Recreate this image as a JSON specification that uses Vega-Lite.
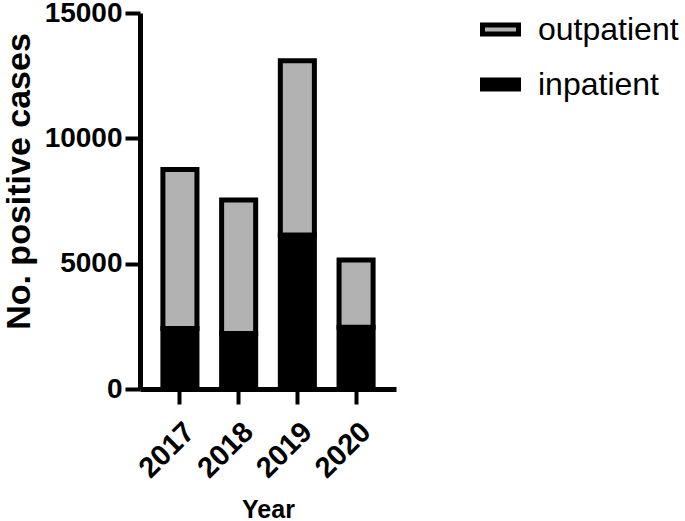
{
  "$schema": "https://vega.github.io/schema/vega-lite/v6.json",
  "autosize": "none",
  "width": 256,
  "height": 376,
  "padding": {"left": 140, "top": 13, "right": 289, "bottom": 132},
  "background": "white",
  "config": {
    "view": {"stroke": null},
    "font": "Liberation Sans",
    "axis": {"domainColor": "black", "tickColor": "black", "labelColor": "black", "titleColor": "black", "grid": false}
  },
  "data": {
    "values": [
      {"year": "2017", "type": "inpatient", "cases": 2410},
      {"year": "2017", "type": "outpatient", "cases": 6347},
      {"year": "2018", "type": "inpatient", "cases": 2210},
      {"year": "2018", "type": "outpatient", "cases": 5330},
      {"year": "2019", "type": "inpatient", "cases": 6140},
      {"year": "2019", "type": "outpatient", "cases": 6960},
      {"year": "2020", "type": "inpatient", "cases": 2460},
      {"year": "2020", "type": "outpatient", "cases": 2690}
    ]
  },
  "mark": {"type": "bar", "stroke": "black", "strokeWidth": 5, "strokeJoin": "miter"},
  "encoding": {
    "x": {
      "field": "year",
      "type": "ordinal",
      "scale": {"paddingInner": 0.42, "paddingOuter": 0.39},
      "axis": {
        "title": "Year",
        "titleFontSize": 25,
        "titleFontWeight": "bold",
        "titleBaseline": "alphabetic",
        "titleY": 128,
        "labelAngle": -45,
        "labelFontSize": 29,
        "labelFontWeight": "bold",
        "labelPadding": 13,
        "labelDx": -6,
        "domainWidth": 5,
        "tickWidth": 4,
        "tickSize": 15
      }
    },
    "y": {
      "field": "cases",
      "type": "quantitative",
      "stack": "zero",
      "scale": {"domain": [0, 15000], "nice": false},
      "axis": {
        "title": "No. positive cases",
        "titleFontSize": 34,
        "titleFontWeight": "bold",
        "titleAngle": -90,
        "titleAlign": "center",
        "titleBaseline": "alphabetic",
        "titleX": -111,
        "titleY": 168,
        "values": [0, 5000, 10000, 15000],
        "format": "d",
        "labelFontSize": 28,
        "labelFontWeight": "bold",
        "labelPadding": 3,
        "domainWidth": 5,
        "tickWidth": 4,
        "tickSize": 15
      }
    },
    "color": {
      "field": "type",
      "type": "nominal",
      "scale": {"domain": ["outpatient", "inpatient"], "range": ["#b2b2b2", "#000000"]},
      "legend": {
        "title": null,
        "orient": "none",
        "legendX": 340,
        "legendY": -4,
        "padding": 0,
        "symbolType": "M-1,-0.25H1V0.25H-1Z",
        "symbolSize": 1296,
        "symbolStrokeWidth": 5,
        "symbolStrokeColor": "black",
        "symbolOpacity": 1,
        "labelFontSize": 32,
        "labelOffset": 17,
        "labelColor": "black",
        "rowPadding": 18
      }
    },
    "order": {"field": "type", "sort": "ascending"}
  }
}
